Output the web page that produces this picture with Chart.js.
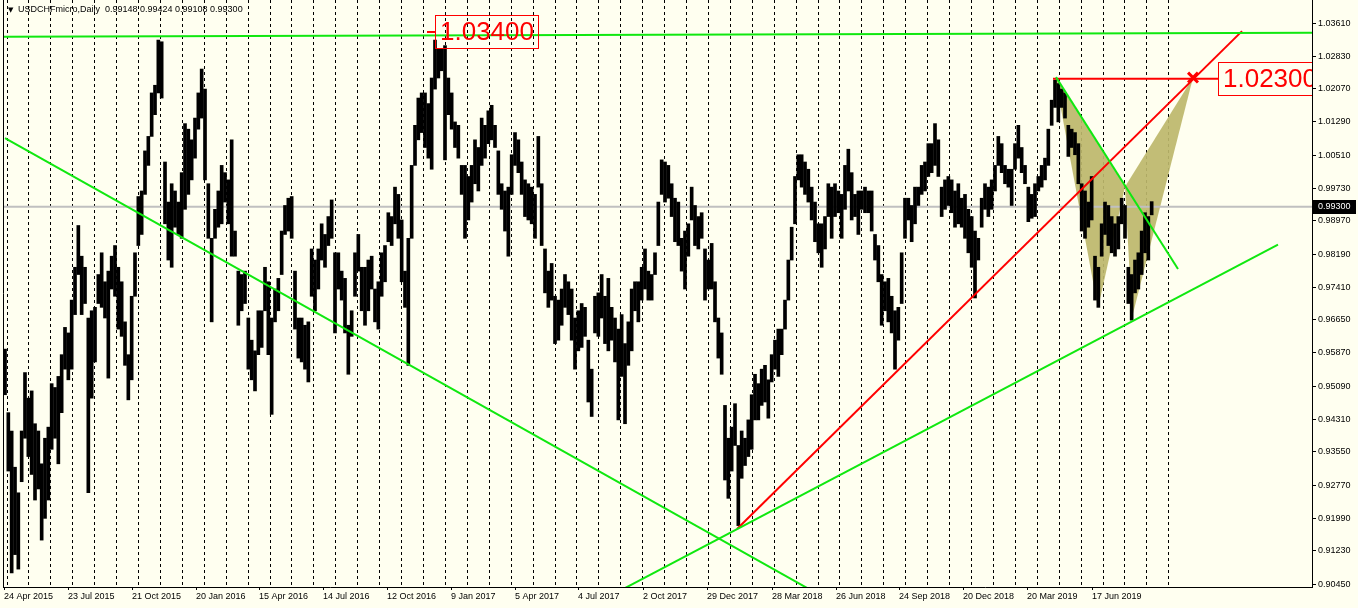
<!DOCTYPE html>
<html>
<head>
<meta charset="utf-8">
<title>USDCHFmicro, Daily</title>
<script src="https://cdn.jsdelivr.net/npm/chart.js@4"></script>
<style>
  html, body { margin: 0; padding: 0; background: #fffff0; }
  #wrap { width: 1358px; height: 608px; }
</style>
</head>
<body>
<div id="wrap"><canvas id="chart" width="1358" height="608"></canvas></div>
<script>
// ---- data ----
const symbolName = "USDCHFmicro,Daily";
const lastBar = [0.99148, 0.99424, 0.99108, 0.99300]; // O H L C

// one sample = about 3.3 daily bars (bar 0 = 24 Apr 2015)
const barsPerSample = 10 / 3;

const highs = [
  0.9596,0.9447,0.9404,0.9319,0.9259,0.9404,0.9541,0.9481,0.9498,0.9421,
  0.9404,0.9327,0.9387,0.9413,0.9515,0.9506,0.9532,0.9583,0.9647,0.9634,
  0.9711,0.9788,0.9886,0.9814,0.9788,0.9669,0.9686,0.9694,0.9771,0.9822,
  0.9754,0.9779,0.9814,0.9839,0.9788,0.9754,0.9660,0.9583,0.9720,0.9822,
  0.9954,0.9967,1.0061,1.0095,1.0197,1.0215,1.0321,1.0317,1.0035,0.9941,
  0.9984,0.9967,0.9941,1.0010,1.0125,1.0112,1.0087,1.0138,1.0197,1.0253,
  1.0206,0.9984,0.9856,0.9924,0.9967,1.0027,1.0010,0.9993,1.0087,0.9873,
  0.9779,0.9771,0.9779,0.9669,0.9617,0.9592,0.9686,0.9686,0.9788,0.9754,
  0.9669,0.9737,0.9762,0.9873,0.9933,0.9950,0.9954,0.9779,0.9669,0.9669,
  0.9652,0.9660,0.9831,0.9805,0.9831,0.9890,0.9865,0.9907,0.9946,0.9822,
  0.9822,0.9779,0.9762,0.9652,0.9686,0.9822,0.9865,0.9788,0.9788,0.9805,
  0.9814,0.9737,0.9754,0.9822,0.9839,0.9916,0.9907,0.9976,0.9959,0.9899,
  0.9779,0.9856,1.0027,1.0121,1.0185,1.0197,1.0197,1.0172,1.0232,1.0321,
  1.0300,1.0300,1.0308,1.0232,1.0197,1.0129,1.0121,1.0027,
  1.0027,1.0001,1.0027,1.0087,1.0069,1.0138,1.0121,1.0155,1.0168,1.0121,
  1.0061,0.9984,0.9967,0.9976,1.0052,1.0104,1.0087,1.0035,0.9993,0.9984,
  0.9976,0.9959,1.0095,0.9984,0.9831,0.9779,0.9797,0.9720,0.9711,0.9737,
  0.9771,0.9754,0.9737,0.9669,0.9686,0.9703,0.9694,0.9617,0.9549,0.9720,
  0.9728,0.9771,0.9720,0.9762,0.9694,0.9669,0.9643,0.9677,0.9609,0.9660,
  0.9737,0.9754,0.9754,0.9788,0.9831,0.9779,0.9771,0.9822,0.9941,1.0040,
  1.0035,1.0027,0.9984,0.9950,0.9941,0.9856,0.9873,0.9890,0.9976,
  0.9933,0.9907,0.9916,0.9831,0.9805,0.9844,0.9754,0.9669,0.9634,0.9464,
  0.9387,0.9413,0.9468,0.9370,0.9404,0.9387,0.9430,0.9489,0.9537,0.9515,
  0.9549,0.9558,0.9524,0.9583,0.9617,0.9643,0.9643,0.9711,0.9805,0.9882,
  1.0001,1.0052,1.0052,1.0035,1.0018,0.9976,0.9941,0.9890,0.9890,0.9907,
  0.9984,0.9976,0.9984,0.9967,0.9959,1.0027,1.0065,1.0010,0.9959,0.9967,
  0.9967,0.9976,0.9967,0.9967,0.9865,0.9839,0.9771,0.9754,0.9762,0.9720,
  0.9686,0.9694,0.9822,0.9950,0.9950,0.9933,0.9976,0.9976,1.0027,
  1.0035,1.0078,1.0078,1.0125,1.0087,0.9976,0.9993,1.0001,0.9993,0.9967,
  0.9984,0.9950,0.9959,0.9924,0.9907,0.9873,0.9856,0.9950,0.9984,0.9976,
  0.9993,1.0027,1.0095,1.0078,1.0027,1.0018,1.0018,1.0078,1.0121,1.0069,
  1.0027,0.9976,0.9959,0.9984,1.0001,1.0027,1.0044,1.0112,1.0180,1.0227,
  1.0219,1.0206,1.0197,1.0121,1.0112,1.0104,1.0078,0.9984,0.9967,0.9941,
  1.0001,0.9814,0.9788,0.9890,0.9941,0.9933,0.9907,0.9890,0.9907,0.9950,
  0.9933,0.9788,0.9771,0.9805,0.9822,0.9873,0.9916,0.9907,0.9942
];

const lows = [
  0.9489,0.9310,0.9071,0.9114,0.9080,0.9285,0.9387,0.9344,0.9302,0.9242,
  0.9268,0.9148,0.9199,0.9242,0.9361,0.9387,0.9327,0.9447,0.9549,0.9524,
  0.9549,0.9677,0.9771,0.9677,0.9703,0.9259,0.9481,0.9566,0.9703,0.9694,
  0.9669,0.9528,0.9737,0.9720,0.9643,0.9626,0.9558,0.9477,0.9524,0.9720,
  0.9839,0.9865,0.9959,1.0027,1.0095,1.0146,1.0197,1.0185,0.9890,0.9805,
  0.9788,0.9882,0.9865,0.9856,0.9924,0.9959,0.9993,1.0044,1.0112,1.0138,
  0.9993,0.9856,0.9660,0.9856,0.9882,0.9890,0.9941,0.9890,0.9814,0.9814,
  0.9652,0.9686,0.9703,0.9549,0.9524,0.9498,0.9583,0.9600,0.9686,0.9583,
  0.9443,0.9660,0.9686,0.9771,0.9865,0.9873,0.9856,0.9643,0.9575,0.9566,
  0.9549,0.9519,0.9720,0.9686,0.9737,0.9805,0.9788,0.9839,0.9856,0.9634,
  0.9737,0.9711,0.9634,0.9537,0.9626,0.9720,0.9779,0.9686,0.9652,0.9686,
  0.9737,0.9660,0.9643,0.9720,0.9754,0.9848,0.9839,0.9890,0.9856,0.9754,
  0.9694,0.9558,0.9856,1.0027,1.0087,1.0104,1.0069,1.0044,1.0018,1.0206,
  1.0232,1.0249,1.0040,1.0146,1.0112,1.0069,1.0044,0.9959,
  0.9856,0.9899,0.9941,0.9984,0.9967,1.0027,1.0044,1.0078,1.0087,1.0069,
  0.9959,0.9924,0.9873,0.9814,0.9959,1.0027,1.0010,0.9959,0.9907,0.9899,
  0.9890,0.9856,0.9976,0.9839,0.9728,0.9694,0.9711,0.9609,0.9617,0.9652,
  0.9694,0.9677,0.9617,0.9549,0.9592,0.9600,0.9626,0.9472,0.9438,0.9634,
  0.9626,0.9669,0.9609,0.9592,0.9617,0.9566,0.9430,0.9532,0.9421,0.9558,
  0.9592,0.9686,0.9660,0.9711,0.9737,0.9711,0.9711,0.9771,0.9839,0.9959,
  0.9941,0.9950,0.9907,0.9848,0.9839,0.9779,0.9737,0.9814,0.9899,
  0.9839,0.9831,0.9856,0.9711,0.9737,0.9737,0.9660,0.9575,0.9537,0.9289,
  0.9246,0.9310,0.9370,0.9182,0.9293,0.9323,0.9344,0.9361,0.9430,0.9430,
  0.9464,0.9472,0.9434,0.9519,0.9549,0.9532,0.9583,0.9643,0.9711,0.9805,
  0.9890,0.9993,0.9976,0.9959,0.9941,0.9899,0.9848,0.9822,0.9788,0.9831,
  0.9907,0.9856,0.9907,0.9916,0.9856,0.9924,0.9967,0.9899,0.9907,0.9865,
  0.9924,0.9916,0.9916,0.9873,0.9805,0.9754,0.9652,0.9686,0.9660,0.9634,
  0.9549,0.9617,0.9703,0.9856,0.9899,0.9848,0.9890,0.9933,0.9959,
  0.9967,1.0001,1.0010,1.0027,1.0001,0.9907,0.9924,0.9933,0.9916,0.9882,
  0.9890,0.9882,0.9856,0.9822,0.9788,0.9716,0.9805,0.9882,0.9924,0.9907,
  0.9924,0.9967,1.0027,1.0010,0.9984,0.9976,0.9933,1.0018,1.0044,1.0010,
  0.9984,0.9895,0.9903,0.9907,0.9967,0.9976,0.9993,1.0027,1.0121,1.0163,
  1.0129,1.0163,1.0138,1.0048,1.0069,1.0052,0.9984,0.9873,0.9856,0.9882,
  0.9899,0.9711,0.9694,0.9814,0.9865,0.9839,0.9822,0.9814,0.9831,0.9890,
  0.9856,0.9703,0.9664,0.9728,0.9737,0.9771,0.9822,0.9805,0.9911
];

// axis labels
const yTicks = [1.03610, 1.02830, 1.02070, 1.01290, 1.00510, 0.99730, 0.98970, 0.98190, 0.97410,
  0.96650, 0.95870, 0.95090, 0.94310, 0.93550, 0.92770, 0.91990, 0.91230, 0.90450];
const dateLabels = ["24 Apr 2015", "23 Jul 2015", "21 Oct 2015", "20 Jan 2016", "15 Apr 2016", "14 Jul 2016",
  "12 Oct 2016", "9 Jan 2017", "5 Apr 2017", "4 Jul 2017", "2 Oct 2017", "29 Dec 2017", "28 Mar 2018",
  "26 Jun 2018", "24 Sep 2018", "20 Dec 2018", "20 Mar 2019", "17 Jun 2019"];
const dateBars = [-1, 63, 127, 191, 254, 318, 382, 446, 510, 573, 638, 702, 767, 831, 894, 958, 1022, 1087];

// drawn objects: [bar, price]
const resistanceLine = [[-3, 1.0329], [1307, 1.0338]];
const fallingLine = [[0, 1.0091], [830, 0.8999]];
const risingSupport = [[605, 0.9017], [1273, 0.9841]];
const patternLine = [[1051, 1.0234], [1173, 0.9784]];
const redTrend = [[732, 0.9174], [1237, 1.0342]];
const targetLine = [[1048, 1.0230], [1213, 1.0230]];
const highTick = [[422, 1.0340], [430, 1.0340]];

// harmonic pattern X A B C D
const patternBars = [1050, 1093, 1120, 1127, 1188];
const patternPrices = [1.0235, 0.9692, 0.9977, 0.9670, 1.0233];

const priceLabels = [
  { text: "1.03400", bar: 430, price: 1.0340 },
  { text: "1.02300", bar: 1213, price: 1.0230 }
];

// ---- helpers ----
const pts = arr => arr.map(([x, y]) => ({ x, y }));
const pp = i => ({ x: patternBars[i], y: patternPrices[i] });
const FONT = '"Liberation Sans", Arial, sans-serif';
const GREEN = "#10e810";

// month grid (about 22 trading days apart)
const gridBars = Array.from({ length: 54 }, (_, k) => 2 + k * 21.92);

const priceBars = highs.map((h, i) => ({ x: i * barsPerSample, y: [lows[i], h] }));

function trend(data, color, order) {
  return { type: "line", data: pts(data), borderColor: color, borderWidth: 2, pointRadius: 0, fill: false, order: order || 1 };
}

// ---- overlay: background, frame, price labels, title ----
const mt4Overlay = {
  id: "mt4Overlay",
  beforeDraw(chart) {
    const { ctx, width, height } = chart;
    ctx.save();
    ctx.fillStyle = "#fffff0";
    ctx.fillRect(0, 0, width, height);
    ctx.restore();
  },
  afterDatasetsDraw(chart) {
    const { ctx, chartArea: a, scales: { x, y } } = chart;
    ctx.save();
    ctx.beginPath();
    ctx.rect(a.left, a.top, a.right - a.left, a.bottom - a.top);
    ctx.clip();
    ctx.font = "26px " + FONT;
    ctx.textBaseline = "middle";
    priceLabels.forEach(l => {
      const px = Math.round(x.getPixelForValue(l.bar));
      const py = Math.round(y.getPixelForValue(l.price));
      const w = Math.round(ctx.measureText(l.text).width) + 9;
      ctx.strokeStyle = "#ff0000";
      ctx.lineWidth = 1;
      ctx.strokeRect(px + 0.5, py - 16.5, w, 33);
      ctx.fillStyle = "#ff0000";
      ctx.fillText(l.text, px + 5, py + 1);
    });
    ctx.restore();
  },
  afterDraw(chart) {
    const { ctx, chartArea: a, scales: { y }, width } = chart;
    ctx.save();
    // left frame line
    ctx.strokeStyle = "#000";
    ctx.lineWidth = 1;
    ctx.beginPath();
    ctx.moveTo(a.left + 0.5, a.top);
    ctx.lineTo(a.left + 0.5, a.bottom);
    ctx.stroke();

    // current price tag on the axis
    const py = Math.round(y.getPixelForValue(lastBar[3]));
    ctx.fillStyle = "#000";
    ctx.fillRect(a.right + 1, py - 7, width - a.right - 3, 14);
    ctx.fillStyle = "#fff";
    ctx.font = "9px " + FONT;
    ctx.textBaseline = "middle";
    ctx.fillText(lastBar[3].toFixed(5), a.right + 6, py);

    // window caption
    ctx.fillStyle = "#000";
    ctx.font = "7px DejaVu Sans";
    ctx.fillText("\u25BC", a.left + 5, 10);
    ctx.font = "9px " + FONT;
    ctx.fillText(symbolName + "  " + lastBar.map(v => v.toFixed(5)).join(" "), a.left + 15, 10);
    ctx.restore();
  }
};

// ---- chart ----
new Chart(document.getElementById("chart"), {
  type: "line",
  data: {
    datasets: [
      // triangle X-A-B
      { type: "line", data: [pp(0), pp(2)], borderWidth: 0, pointRadius: 0, fill: false, order: 20 },
      { type: "line", data: [pp(0), pp(1), pp(2)], borderWidth: 0, pointRadius: 0, fill: 0,
        backgroundColor: "rgba(189,183,107,0.92)", order: 20 },
      // triangle B-C-D
      { type: "line", data: [pp(2), pp(4)], borderWidth: 0, pointRadius: 0, fill: false, order: 20 },
      { type: "line", data: [pp(2), pp(3), pp(4)], borderWidth: 0, pointRadius: 0, fill: 2,
        backgroundColor: "rgba(189,183,107,0.92)", order: 20 },
      // last price line
      trend([[-3, lastBar[3]], [1307, lastBar[3]]], "#c0c0c0", 15),
      // price bars
      { type: "bar", data: priceBars, backgroundColor: "#000", borderWidth: 0, barThickness: 3, grouped: false, order: 10 },
      // drawn objects
      trend(resistanceLine, GREEN),
      trend(fallingLine, GREEN),
      trend(risingSupport, GREEN),
      trend(patternLine, GREEN),
      trend(redTrend, "#ff0000"),
      trend(targetLine, "#ff0000"),
      trend(highTick, "#ff0000"),
      { type: "line", data: [pp(4)], showLine: false, pointStyle: "crossRot", pointRadius: 7,
        pointBorderWidth: 3, pointBorderColor: "#ff0000", order: 0 }
    ]
  },
  options: {
    responsive: false,
    animation: false,
    devicePixelRatio: 1,
    events: [],
    layout: { autoPadding: false, padding: { left: 3, top: 0, right: 0, bottom: 0 } },
    elements: { line: { tension: 0 } },
    plugins: { legend: { display: false }, tooltip: { enabled: false }, title: { display: false } },
    scales: {
      x: {
        type: "linear", position: "bottom", min: -2, max: 1307, bounds: "data", offset: false,
        afterBuildTicks: s => { s.ticks = dateBars.map(v => ({ value: v })); },
        afterFit: s => { s.height = 21; s.paddingLeft = 0; s.paddingRight = 0; },
        grid: { drawOnChartArea: false, drawTicks: true, tickLength: 3, color: "#000", offset: false },
        border: { display: true, color: "#000", width: 1 },
        ticks: {
          autoSkip: false, maxRotation: 0, align: "start", padding: 1, color: "#000",
          font: { family: "Liberation Sans", size: 9 },
          callback: (v, i) => dateLabels[i]
        }
      },
      xg: {
        type: "linear", position: "bottom", min: -2, max: 1307, bounds: "data", offset: false,
        afterBuildTicks: s => { s.ticks = gridBars.map(v => ({ value: v })); },
        afterFit: s => { s.height = 0; s.paddingLeft = 0; s.paddingRight = 0; },
        ticks: { display: false },
        grid: { drawOnChartArea: true, drawTicks: false, color: "#000", lineWidth: 1, offset: false },
        border: { display: false, dash: [3, 3] }
      },
      y: {
        type: "linear", position: "right", min: 0.90380, max: 1.04150, bounds: "data",
        afterBuildTicks: s => { s.ticks = yTicks.map(v => ({ value: v })); },
        afterFit: s => { s.width = 46; s.paddingTop = 0; s.paddingBottom = 0; },
        grid: { drawOnChartArea: false, drawTicks: true, tickLength: 4, color: "#000" },
        border: { display: true, color: "#000" },
        ticks: {
          autoSkip: false, padding: 2, color: "#000",
          font: { family: "Liberation Sans", size: 9 },
          callback: v => v.toFixed(5)
        }
      }
    }
  },
  plugins: [mt4Overlay]
});
</script>
</body>
</html>
